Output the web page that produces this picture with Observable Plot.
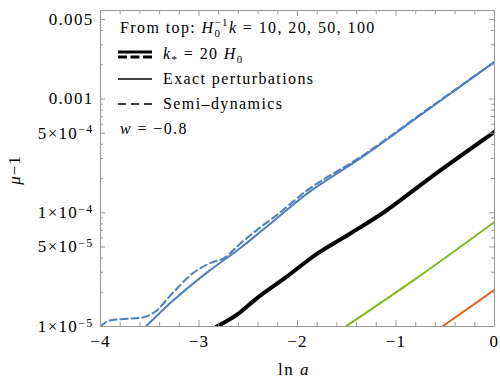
<!DOCTYPE html>
<html><head><meta charset="utf-8">
<script src="https://cdn.jsdelivr.net/npm/d3@7"></script>
<script src="https://cdn.jsdelivr.net/npm/@observablehq/plot@0.6"></script>
<style>body{margin:0;background:#fff}</style>
</head><body><div id="chart"></div>
<script>
// k = 10 (blue), exact perturbations
const k10ExactLnA = [-3.54, -3.26, -2.91, -2.58, -2.38, -2.24, -1.9, -1.36, -0.7, 0];
const k10ExactMu  = [1.0e-5, 1.70e-5, 3.02e-5, 4.90e-5, 6.76e-5, 8.51e-5, 1.48e-4, 3.02e-4, 7.76e-4, 2.12e-3];
// k = 10 (blue), semi-dynamics
const k10SemiLnA = [-4, -3.92, -3.8, -3.6, -3.46, -3.26, -3.06, -2.88, -2.75, -2.58, -2.38, -2.24, -1.9, -1.36, -0.7, 0];
const k10SemiMu  = [1.0e-5, 1.12e-5, 1.16e-5, 1.19e-5, 1.32e-5, 2.0e-5, 2.95e-5, 3.63e-5, 3.98e-5, 5.37e-5, 7.41e-5, 9.12e-5, 1.58e-4, 3.09e-4, 7.9e-4, 2.12e-3];
// k = 20 (black, thick)
const k20LnA = [-2.82, -2.61, -2.42, -2.14, -1.80, -1.46, -1.13, -0.68, 0];
const k20Mu  = [1.0e-5, 1.28e-5, 1.75e-5, 2.62e-5, 4.37e-5, 6.61e-5, 1.0e-4, 1.95e-4, 5.13e-4];
// k = 50 (green)
const k50LnA = [-1.51, -0.78, 0];
const k50Mu  = [1.0e-5, 2.7e-5, 8.3e-5];
// k = 100 (orange)
const k100LnA = [-0.53, 0];
const k100Mu  = [1.0e-5, 2.1e-5];

const xMajor = [-4, -3, -2, -1, 0];
const xMinor = d3.range(-4, 0.001, 0.2).map(v => +v.toFixed(1)).filter(v => !xMajor.includes(v));
const yLabeled = [1e-5, 5e-5, 1e-4, 5e-4, 0.001, 0.005];
const yLabelText = ["1×10^−5", "5×10^−5", "1×10^−4", "5×10^−4", "0.001", "0.005"];
const yMinor = [];
for (const p of [1e-5, 1e-4, 1e-3]) for (const m of [2,3,4,6,7,8,9]) { const v = +(m*p).toPrecision(2); if (v <= 0.006) yMinor.push(v); }

const toRows = (xs, ys) => xs.map((x, i) => ({x, y: ys[i]}));
const blue = "#4f7fbc", green = "#86b51c", orange = "#ea6220", black = "#000";
const frameGray = "#999";

const W = 500, H = 383, mL = 100, mR = 6, mT = 10, mB = 57;
const fw = W - mL - mR, fh = H - mT - mB;
const xTicks = (vals, len, top) => Plot.ruleX(vals, {x: d => d, stroke: frameGray, strokeWidth: 1,
  insetTop: top ? 0 : fh - len, insetBottom: top ? fh - len : 0});
const yTicks = (vals, len, right) => Plot.ruleY(vals, {y: d => d, stroke: frameGray, strokeWidth: 1,
  insetLeft: right ? fw - len : 0, insetRight: right ? 0 : fw - len});

const common = {x: "x", y: "y", clip: true, curve: "monotone-x"};
const plot = Plot.plot({
  width: W, height: H,
  marginLeft: mL, marginRight: mR, marginTop: mT, marginBottom: mB,
  x: {domain: [-4, 0]},
  y: {type: "log", domain: [1e-5, 0.006], axis: null},
  style: {fontFamily: "'Liberation Serif', 'Times New Roman', serif", fontSize: "17px", background: "white", color: "black", letterSpacing: "1.3px"},
  marks: [
    Plot.line(toRows(k100LnA, k100Mu), {...common, stroke: orange, strokeWidth: 2}),
    Plot.line(toRows(k50LnA, k50Mu), {...common, stroke: green, strokeWidth: 2}),
    Plot.line(toRows(k20LnA, k20Mu), {...common, stroke: black, strokeWidth: 4}),
    Plot.line(toRows(k10SemiLnA, k10SemiMu), {...common, stroke: blue, strokeWidth: 2, strokeDasharray: "7,4"}),
    Plot.line(toRows(k10ExactLnA, k10ExactMu), {...common, stroke: blue, strokeWidth: 2}),
    xTicks(xMajor, 6, false), xTicks(xMinor, 4, false),
    xTicks(xMajor, 6, true), xTicks(xMinor, 4, true),
    yTicks(yLabeled, 5, false), yTicks(yMinor, 3, false),
    yTicks(yLabeled, 5, true), yTicks(yMinor, 3, true),
    Plot.frame({stroke: frameGray}),
    Plot.axisX({anchor: "bottom", ticks: xMajor, tickSize: 0, tickPadding: 8, label: null,
      tickFormat: d => d === 0 ? "0" : "\u2212" + Math.abs(d)}),
    Plot.text(yLabeled, {y: d => d, text: (d, i) => yLabelText[i], frameAnchor: "left", dx: -7,
      textAnchor: "end"})
  ]
});
document.getElementById("chart").appendChild(plot);

const svg = d3.select(plot);
// superscripts in y tick labels
svg.selectAll("text").each(function() {
  const t = this.textContent;
  const m = t.match(/^(.*)\^(.*)$/);
  if (m) {
    const s = d3.select(this); s.text("");
    s.append("tspan").text(m[1]);
    s.append("tspan").attr("dy", "-0.45em").attr("font-size", "12px").text(m[2]);
  }
});

const g = svg.append("g").attr("font-family", "'Liberation Serif', 'Times New Roman', serif")
  .attr("font-size", 16).attr("fill", "black").attr("text-anchor", "start").attr("letter-spacing", "1.4px");

// line 1
const t1 = g.append("text").attr("x", 120).attr("y", 33);
t1.append("tspan").text("From top: ");
t1.append("tspan").attr("font-style", "italic").text("H");
t1.append("tspan").attr("font-size", 11).attr("dy", 4).text("0");
t1.append("tspan").attr("font-size", 11).attr("dx", -7).attr("dy", -11).text("\u22121");
t1.append("tspan").attr("dy", 7).attr("font-style", "italic").text("k");
t1.append("tspan").text(" = 10, 20, 50, 100");

// line 2
g.append("line").attr("x1", 118).attr("x2", 152).attr("y1", 52).attr("y2", 52).attr("stroke", "black").attr("stroke-width", 3);
g.append("line").attr("x1", 118).attr("x2", 152).attr("y1", 57).attr("y2", 57).attr("stroke", "black").attr("stroke-width", 3).attr("stroke-dasharray", "9,3.5");
const t2 = g.append("text").attr("x", 163).attr("y", 59);
t2.append("tspan").attr("font-style", "italic").text("k");
t2.append("tspan").attr("font-size", 11).attr("dy", 4).text("*");
t2.append("tspan").attr("dy", -4).text(" = 20 ");
t2.append("tspan").attr("font-style", "italic").text("H");
t2.append("tspan").attr("font-size", 11).attr("dy", 4).text("0");

// line 3
g.append("line").attr("x1", 118).attr("x2", 152).attr("y1", 79).attr("y2", 79).attr("stroke", "black").attr("stroke-width", 1.6);
g.append("text").attr("x", 163).attr("y", 84).text("Exact perturbations");

// line 4
g.append("line").attr("x1", 118).attr("x2", 152).attr("y1", 104).attr("y2", 104).attr("stroke", "black").attr("stroke-width", 1.6).attr("stroke-dasharray", "8,5");
g.append("text").attr("x", 163).attr("y", 109).text("Semi\u2013dynamics");

// line 5
const t5 = g.append("text").attr("x", 120).attr("y", 134);
t5.append("tspan").attr("font-style", "italic").text("w");
t5.append("tspan").text(" = \u22120.8");

// axis labels
const yl = g.append("text").attr("transform", "translate(20,170) rotate(-90)").attr("text-anchor", "middle")
  .attr("font-size", 17).attr("letter-spacing", "1px");
yl.append("tspan").attr("font-style", "italic").text("\u03bc");
yl.append("tspan").text("\u22121");
const xl = g.append("text").attr("x", 294).attr("y", 375).attr("text-anchor", "middle")
  .attr("font-size", 17).attr("letter-spacing", "1.5px");
xl.append("tspan").text("ln ");
xl.append("tspan").attr("font-style", "italic").text("a");
</script>
</body></html>
